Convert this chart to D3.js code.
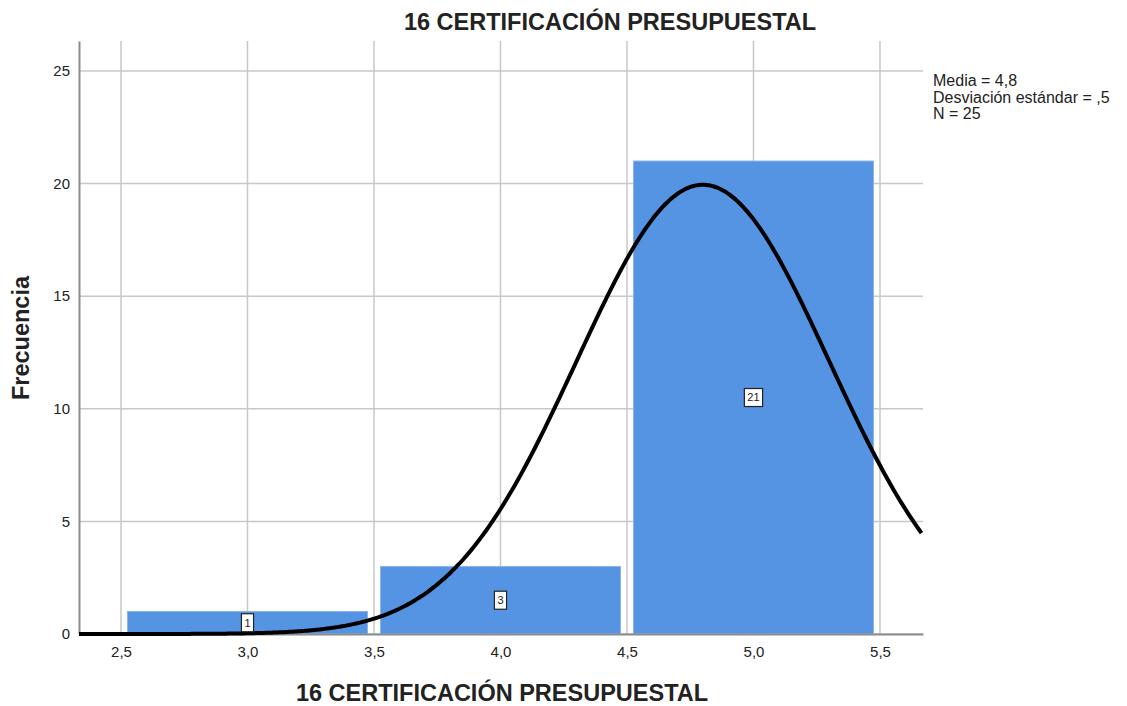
<!DOCTYPE html>
<html><head><meta charset="utf-8">
<script src="https://cdn.jsdelivr.net/npm/d3@7"></script>
<style>
body{margin:0;background:#fff;}
svg{display:block;font-family:"Liberation Sans",Arial,sans-serif;}
</style></head><body>
<svg id="c" width="1127" height="706"></svg>
<script>
const binCenters = [3.0, 4.0, 5.0];
const binWidth = 1.0;
const frequencies = [1, 3, 21];
const xTicks = [2.5, 3.0, 3.5, 4.0, 4.5, 5.0, 5.5];
const yTicks = [0, 5, 10, 15, 20, 25];
const statMean = 4.8, statSd = 0.5, statN = 25;
const legendLines = ["Media = 4,8", "Desviación estándar = ,5", "N = 25"];
const title = "16 CERTIFICACIÓN PRESUPUESTAL";
const xTitle = "16 CERTIFICACIÓN PRESUPUESTAL";
const yTitle = "Frecuencia";

const svg = d3.select("#c");
const L = 79, R = 923, T = 41, B = 634;
const x = d3.scaleLinear().domain([2.334, 5.67]).range([L, R]);
const y = d3.scaleLinear().domain([0, 26.33]).range([B, T]);
const fmt = d => d3.format(".1f")(d).replace(".", ",");

// grid
svg.append("g").selectAll("line").data(yTicks).join("line")
  .attr("x1", L).attr("x2", R).attr("y1", d => y(d)).attr("y2", d => y(d))
  .attr("stroke", "#c8c8c8").attr("stroke-width", 1.5);
svg.append("g").selectAll("line").data(xTicks).join("line")
  .attr("x1", d => x(d)).attr("x2", d => x(d)).attr("y1", T).attr("y2", B)
  .attr("stroke", "#c8c8c8").attr("stroke-width", 1.5);

// bars
const inset = 6.5;
svg.append("g").selectAll("rect").data(binCenters).join("rect")
  .attr("x", d => x(d - binWidth / 2) + inset)
  .attr("width", d => x(d + binWidth / 2) - x(d - binWidth / 2) - 2 * inset)
  .attr("y", (d, i) => y(frequencies[i]))
  .attr("height", (d, i) => y(0) - y(frequencies[i]))
  .attr("fill", "#5594e2").attr("stroke", "#8ab4ea").attr("stroke-width", 1);

// axes
const yAxis = svg.append("g").attr("transform", `translate(${L},0)`)
  .call(d3.axisLeft(y).tickValues(yTicks).tickSize(0).tickPadding(9).tickFormat(d3.format("d")));
const xAxis = svg.append("g").attr("transform", `translate(0,${B})`)
  .call(d3.axisBottom(x).tickValues(xTicks).tickSize(0).tickPadding(12).tickFormat(fmt));
[yAxis, xAxis].forEach(a => {
  a.select(".domain").attr("stroke", "#8c8c8c").attr("stroke-width", 2);
  a.selectAll("text").attr("font-size", 15).attr("fill", "#222")
    .attr("font-family", "'Liberation Sans',Arial,sans-serif");
});

// normal curve (from reported mean, sd, N)
const pdf = v => statN * binWidth * Math.exp(-0.5 * ((v - statMean) / statSd) ** 2) / (statSd * Math.sqrt(2 * Math.PI));
const xs = d3.range(x.domain()[0], x.domain()[1] + 1e-9, 0.01);
svg.append("path").datum(xs)
  .attr("d", d3.line().x(d => x(d)).y(d => y(pdf(d))).curve(d3.curveBasis))
  .attr("fill", "none").attr("stroke", "#000").attr("stroke-width", 4)
  .attr("stroke-linecap", "butt");

// value labels
const lg = svg.append("g").selectAll("g").data(binCenters).join("g")
  .attr("transform", (d, i) => `translate(${x(d)},${y(frequencies[i] / 2)})`);
lg.append("text").text((d, i) => frequencies[i])
  .attr("text-anchor", "middle").attr("dy", "0.35em").attr("font-size", 11).attr("fill", "#222")
  .each(function () {
    const b = this.getBBox();
    d3.select(this.parentNode).insert("rect", "text")
      .attr("x", b.x - 3).attr("y", -9).attr("width", b.width + 6).attr("height", 18)
      .attr("fill", "#fff").attr("stroke", "#222").attr("stroke-width", 1.2);
  });

// titles
svg.append("text").text(title).attr("x", 610).attr("y", 30)
  .attr("text-anchor", "middle").attr("font-size", 23.5).attr("font-weight", "bold").attr("fill", "#222");
svg.append("text").text(xTitle).attr("x", 502).attr("y", 701)
  .attr("text-anchor", "middle").attr("font-size", 23.5).attr("font-weight", "bold").attr("fill", "#222");
svg.append("text").text(yTitle).attr("transform", "translate(29,338) rotate(-90)")
  .attr("text-anchor", "middle").attr("font-size", 23.5).attr("font-weight", "bold").attr("fill", "#222");

// legend
svg.append("g").selectAll("text").data(legendLines).join("text")
  .text(d => d).attr("x", 933).attr("y", (d, i) => 86 + i * 16.5)
  .attr("font-size", 16).attr("fill", "#222");
</script>
</body></html>
